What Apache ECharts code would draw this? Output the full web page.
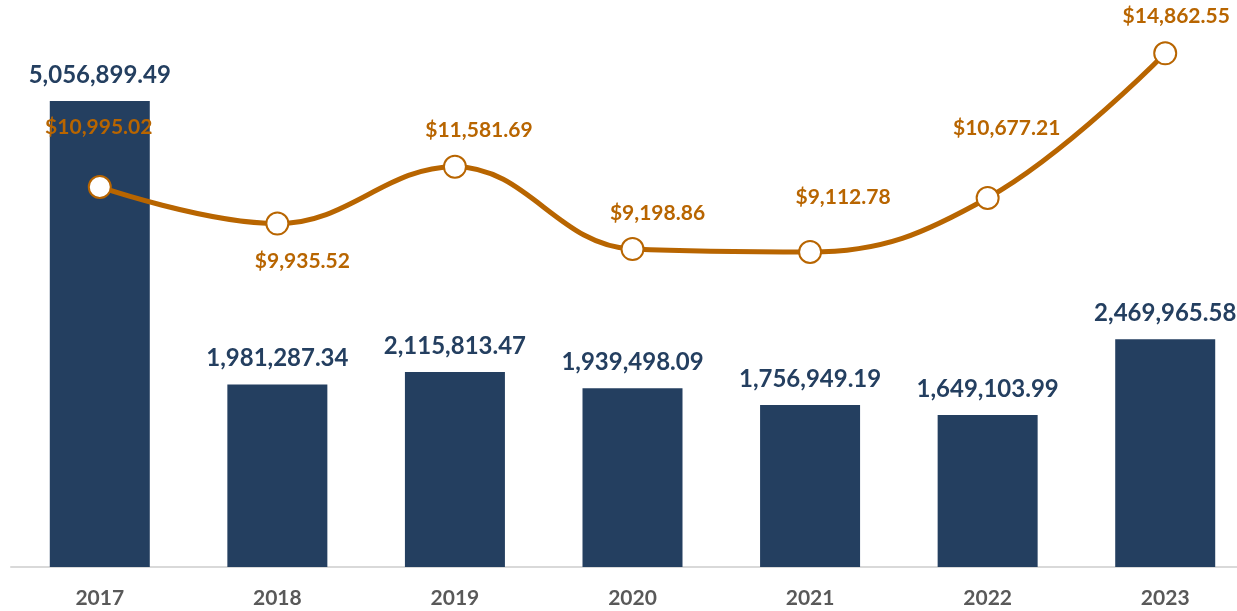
<!DOCTYPE html>
<html>
<head>
<meta charset="utf-8">
<script src="https://cdn.jsdelivr.net/npm/echarts@6/dist/echarts.min.js"></script>
<style>
  html, body { margin: 0; padding: 0; background: #fff; }
  #main { width: 1237px; height: 611px; }
</style>
</head>
<body>
<div id="main"></div>
<script>
const years = ['2017', '2018', '2019', '2020', '2021', '2022', '2023'];
const totals = [5056899.49, 1981287.34, 2115813.47, 1939498.09, 1756949.19, 1649103.99, 2469965.58];
const averages = [10995.02, 9935.52, 11581.69, 9198.86, 9112.78, 10677.21, 14862.55];
// where each average label sits relative to its point
const avgLabelOffsets = [[-1, -60], [25, 38], [24, -36], [25, -36], [33, -55], [19, -70], [11, -37]];

const navy = '#243F60';
const orange = '#B86500';
const font = 'Lato, "Open Sans", sans-serif';

const fmt = (v, d) => v.toLocaleString('en-US', { minimumFractionDigits: d, maximumFractionDigits: d });

const chart = echarts.init(document.getElementById('main'));

const option = {
  backgroundColor: '#ffffff',
  animation: false,
  grid: { left: 11, width: 1243, top: 14, bottom: 44, containLabel: false, outerBoundsMode: 'none' },
  xAxis: {
    type: 'category',
    data: years,
    axisLine: { lineStyle: { color: '#D9D9D9', width: 2 } },
    axisTick: { show: false },
    axisLabel: {
      color: '#595959',
      fontFamily: font,
      fontWeight: 'bold',
      fontSize: 21,
      lineHeight: 22,
      margin: 20
    }
  },
  yAxis: [
    { type: 'value', min: 0, max: 6000000, show: false, splitLine: { show: false } },
    { type: 'value', min: 0, max: 16000, show: false, splitLine: { show: false } }
  ],
  series: [
    {
      name: 'Total',
      type: 'bar',
      data: totals,
      barWidth: 100,
      itemStyle: { color: navy },
      label: {
        show: true,
        position: 'top',
        distance: 14,
        color: navy,
        fontFamily: font,
        fontWeight: 'bold',
        fontSize: 24,
        lineHeight: 24,
        formatter: p => fmt(p.value, 2)
      }
    },
    {
      name: 'Average',
      type: 'line',
      yAxisIndex: 1,
      smooth: 0.4,
      data: averages.map((v, i) => ({
        value: v,
        label: { offset: avgLabelOffsets[i] }
      })),
      symbol: 'circle',
      symbolSize: 22,
      lineStyle: { color: orange, width: 5 },
      itemStyle: { color: '#ffffff', borderColor: orange, borderWidth: 2 },
      z: 5,
      label: {
        show: true,
        position: 'inside',
        color: orange,
        fontFamily: font,
        fontWeight: 'bold',
        fontSize: 21,
        formatter: p => '$' + fmt(p.value, 2)
      }
    }
  ]
};

option && chart.setOption(option);
</script>
</body>
</html>
